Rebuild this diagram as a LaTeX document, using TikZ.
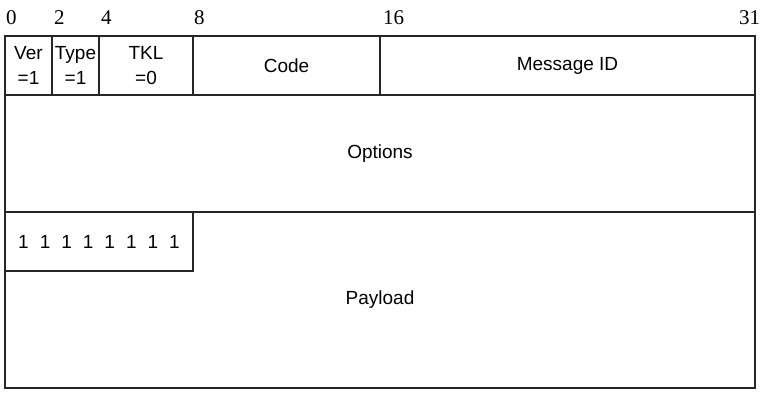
\documentclass[tikz,border=0pt]{standalone}
\usepackage{fontspec}
\setmainfont{Liberation Sans}
\newfontfamily\numfont{Liberation Serif}
\begin{document}
\begin{tikzpicture}[x=1pt,y=-1pt,
  field/.style={draw=black!85,line width=1.1pt,rectangle,inner sep=0pt,align=center,
    font=\fontsize{19}{25}\selectfont},
  bitlbl/.style={anchor=base west,inner sep=0pt,font=\numfont\fontsize{21}{21}\selectfont}]
\useasboundingbox (0,0) rectangle (764,400);
% header row
\node[field,minimum width=47pt,minimum height=59pt] (ver) at (28.5,65.5) {Ver\\=1};
\node[field,minimum width=47pt,minimum height=59pt] (type) at (75.5,65.5) {Type\\=1};
\node[field,minimum width=94pt,minimum height=59pt] (tkl) at (146,65.5) {TKL\\=0};
\node[field,minimum width=187pt,minimum height=59pt] (code) at (286.5,65.5) {Code};
\node[field,minimum width=375pt,minimum height=59pt] (msgid) at (567.5,65.5) {Message ID};
% options
\node[field,minimum width=750pt,minimum height=117pt] (options) at (380,153.5) {Options};
% payload
\node[field,minimum width=750pt,minimum height=176pt] (payload) at (380,300) {Payload};
\node[field,minimum width=188pt,minimum height=59pt] (marker) at (99,241.5)
  {1\hspace{11pt}1\hspace{11pt}1\hspace{11pt}1\hspace{11pt}1\hspace{11pt}1\hspace{11pt}1\hspace{11pt}1};
% bit numbers
\node[bitlbl] (b0) at (6,24) {0};
\node[bitlbl] (b2) at (54,24) {2};
\node[bitlbl] (b4) at (101,24) {4};
\node[bitlbl] (b8) at (194,24) {8};
\node[bitlbl] (b16) at (383,24) {16};
\node[bitlbl] (b31) at (739,24) {31};
\end{tikzpicture}
\end{document}
